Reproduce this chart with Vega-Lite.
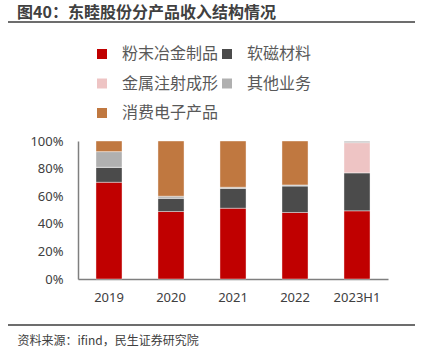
{
  "$schema": "https://vega.github.io/schema/vega-lite/v6.json",
  "width": 407,
  "height": 303,
  "autosize": "none",
  "padding": {"left": 8, "top": 22, "right": 11, "bottom": 29},
  "background": "white",
  "config": {"view": {"stroke": null}, "font": "Noto Sans CJK SC"},
  "title": {
    "text": "图40：东睦股份分产品收入结构情况",
    "anchor": "start",
    "frame": "group",
    "dx": 9,
    "offset": 0,
    "fontSize": 16,
    "fontWeight": "bold",
    "color": "#404040",
    "font": "Noto Sans CJK SC"
  },
  "data": {
    "values": [
      {"year": "2019", "product": "粉末冶金制品", "value": 70.1},
      {"year": "2019", "product": "软磁材料", "value": 10.9},
      {"year": "2019", "product": "金属注射成形", "value": 0},
      {"year": "2019", "product": "其他业务", "value": 11.3},
      {"year": "2019", "product": "消费电子产品", "value": 7.7},
      {"year": "2020", "product": "粉末冶金制品", "value": 48.9},
      {"year": "2020", "product": "软磁材料", "value": 9.7},
      {"year": "2020", "product": "金属注射成形", "value": 0},
      {"year": "2020", "product": "其他业务", "value": 1.4},
      {"year": "2020", "product": "消费电子产品", "value": 40.0},
      {"year": "2021", "product": "粉末冶金制品", "value": 51.3},
      {"year": "2021", "product": "软磁材料", "value": 14.5},
      {"year": "2021", "product": "金属注射成形", "value": 0},
      {"year": "2021", "product": "其他业务", "value": 0.7},
      {"year": "2021", "product": "消费电子产品", "value": 33.5},
      {"year": "2022", "product": "粉末冶金制品", "value": 48.2},
      {"year": "2022", "product": "软磁材料", "value": 19.3},
      {"year": "2022", "product": "金属注射成形", "value": 0},
      {"year": "2022", "product": "其他业务", "value": 0.7},
      {"year": "2022", "product": "消费电子产品", "value": 31.8},
      {"year": "2023H1", "product": "粉末冶金制品", "value": 49.4},
      {"year": "2023H1", "product": "软磁材料", "value": 27.5},
      {"year": "2023H1", "product": "金属注射成形", "value": 21.9},
      {"year": "2023H1", "product": "其他业务", "value": 1.2},
      {"year": "2023H1", "product": "消费电子产品", "value": 0}
    ]
  },
  "layer": [
    {
      "transform": [
        {"window": [{"op": "row_number", "as": "stackorder"}], "groupby": ["year"]}
      ],
      "mark": {"type": "bar", "stroke": "white", "strokeWidth": 0.4},
      "encoding": {
        "x": {
          "field": "year",
          "type": "nominal",
          "sort": null,
          "scale": {"range": [70, 380], "paddingInner": 0.58, "paddingOuter": 0.29},
          "axis": {
            "offset": -46,
            "domainColor": "#7f7f7f",
            "domainWidth": 1.5,
            "ticks": false,
            "labelAngle": 0,
            "labelFontSize": 13,
            "labelColor": "#404040",
            "labelPadding": 12,
            "labelFont": "Noto Sans",
            "title": "资料来源：ifind，民生证券研究院",
            "titleAnchor": "start",
            "titleAlign": "left",
            "titleX": 9,
            "titleY": 61,
            "titleBaseline": "middle",
            "titleFontSize": 12,
            "titleFontWeight": "normal",
            "titleColor": "#404040",
            "titleFont": "Noto Sans CJK SC"
          }
        },
        "y": {
          "field": "value",
          "type": "quantitative",
          "stack": "zero",
          "scale": {"domain": [0, 100], "range": [257, 119], "nice": false},
          "axis": {
            "offset": -70,
            "values": [0, 20, 40, 60, 80, 100],
            "labelExpr": "datum.value + '%'",
            "domainColor": "#7f7f7f",
            "domainWidth": 1.5,
            "ticks": false,
            "grid": false,
            "labelFontSize": 13,
            "labelColor": "#404040",
            "labelPadding": 15,
            "labelFont": "Noto Sans",
            "title": null
          }
        },
        "color": {
          "field": "product",
          "type": "nominal",
          "scale": {
            "domain": ["粉末冶金制品", "软磁材料", "金属注射成形", "其他业务", "消费电子产品"],
            "range": ["#C00000", "#4B4B4B", "#EEC4C4", "#B0B0B0", "#C07840"]
          },
          "legend": {
            "orient": "none",
            "legendX": 86,
            "legendY": 24,
            "direction": "horizontal",
            "columns": 2,
            "columnPadding": -4,
            "rowPadding": 13.5,
            "padding": 0,
            "title": null,
            "symbolType": "square",
            "symbolSize": 100,
            "symbolStrokeWidth": 0,
            "labelFontSize": 16,
            "labelColor": "#595959",
            "labelOffset": 12,
            "labelFont": "Noto Sans CJK SC"
          }
        },
        "order": {"field": "stackorder", "type": "quantitative", "sort": "ascending"}
      }
    },
    {
      "mark": {"type": "rule", "color": "#6d6d6d", "strokeWidth": 2},
      "encoding": {"y": {"datum": 186.2}}
    },
    {
      "mark": {"type": "rule", "color": "#6d6d6d", "strokeWidth": 2},
      "encoding": {"y": {"datum": -33.3}}
    }
  ]
}
